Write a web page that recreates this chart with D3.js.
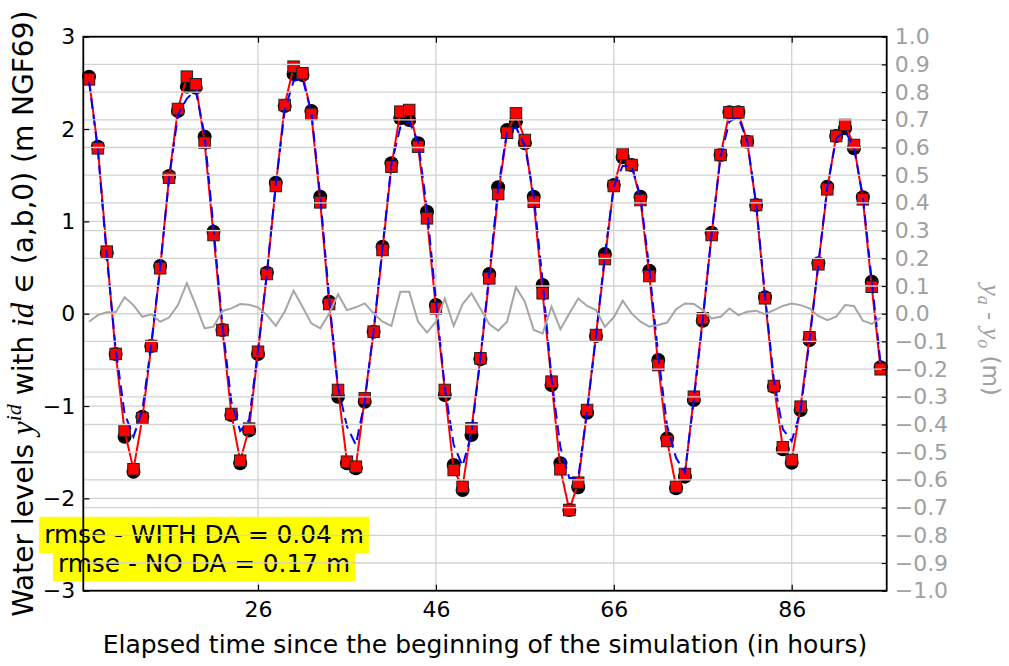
<!DOCTYPE html>
<html><head><meta charset="utf-8">
<script src="https://cdn.jsdelivr.net/npm/d3@7"></script>
<style>body{margin:0;background:#fff;} svg{display:block;font-family:"DejaVu Sans";}</style>
</head><body><svg id="c" width="1009" height="666"></svg>
<script>
const hours = [7,8,9,10,11,12,13,14,15,16,17,18,19,20,21,22,23,24,25,26,27,28,29,30,31,32,33,34,35,36,37,38,39,40,41,42,43,44,45,46,47,48,49,50,51,52,53,54,55,56,57,58,59,60,61,62,63,64,65,66,67,68,69,70,71,72,73,74,75,76,77,78,79,80,81,82,83,84,85,86,87,88,89,90,91,92,93,94,95,96];
const obs = [2.567,1.809,0.661,-0.436,-1.332,-1.711,-1.116,-0.350,0.517,1.491,2.195,2.459,2.448,1.917,0.888,-0.177,-1.097,-1.620,-1.264,-0.436,0.444,1.419,2.250,2.596,2.585,2.195,1.267,0.130,-0.899,-1.620,-1.675,-0.953,-0.195,0.726,1.629,2.116,2.098,1.846,1.105,0.094,-0.881,-1.639,-1.909,-1.314,-0.494,0.430,1.369,1.990,2.080,1.846,1.267,0.311,-0.772,-1.620,-2.126,-1.880,-1.072,-0.242,0.647,1.394,1.694,1.610,1.267,0.466,-0.501,-1.350,-1.891,-1.765,-0.935,-0.076,0.877,1.719,2.181,2.181,1.863,1.177,0.178,-0.791,-1.469,-1.614,-1.043,-0.285,0.546,1.376,1.925,2.008,1.791,1.261,0.347,-0.580];
const withDA = [2.538,1.791,0.672,-0.436,-1.270,-1.685,-1.133,-0.350,0.492,1.473,2.217,2.567,2.485,1.852,0.852,-0.177,-1.086,-1.592,-1.245,-0.412,0.430,1.383,2.260,2.675,2.604,2.163,1.206,0.105,-0.826,-1.603,-1.657,-0.917,-0.195,0.690,1.592,2.188,2.206,1.809,1.033,0.058,-0.826,-1.693,-1.874,-1.241,-0.483,0.383,1.296,1.960,2.170,1.881,1.213,0.221,-0.736,-1.685,-2.126,-1.830,-1.043,-0.231,0.592,1.383,1.730,1.610,1.231,0.408,-0.556,-1.379,-1.874,-1.736,-0.899,-0.050,0.852,1.719,2.181,2.181,1.863,1.177,0.167,-0.783,-1.447,-1.585,-1.007,-0.256,0.535,1.347,1.925,2.044,1.827,1.239,0.292,-0.602];
const noDA = [2.52,1.77,0.62,-0.38,-1.08,-1.33,-1.05,-0.33,0.50,1.46,2.15,2.33,2.42,1.93,0.93,-0.12,-0.95,-1.27,-1.15,-0.40,0.44,1.40,2.20,2.52,2.55,2.18,1.27,0.17,-0.80,-1.22,-1.42,-0.95,-0.18,0.72,1.62,2.02,2.08,1.86,1.13,0.14,-0.80,-1.42,-1.65,-1.30,-0.48,0.43,1.36,1.97,2.02,1.82,1.28,0.35,-0.70,-1.45,-1.78,-1.78,-1.05,-0.24,0.64,1.38,1.60,1.60,1.27,0.48,-0.45,-1.22,-1.56,-1.72,-0.93,-0.07,0.87,1.70,2.08,2.13,1.87,1.19,0.20,-0.72,-1.25,-1.38,-1.05,-0.29,0.54,1.37,1.90,1.98,1.80,1.27,0.36,-0.55];
const diffAO = [-0.029,-0.005,0.005,0.005,0.059,0.031,-0.011,-0.002,-0.029,-0.014,0.031,0.110,0.031,-0.053,-0.047,0.010,0.019,0.035,0.032,0.023,-0.005,-0.044,0.007,0.083,0.025,-0.035,-0.053,0.001,0.070,0.013,0.023,0.037,0.001,-0.029,-0.044,0.079,0.079,-0.029,-0.068,-0.029,0.055,-0.044,0.035,0.074,0.019,-0.037,-0.061,-0.029,0.095,0.043,-0.059,-0.071,0.025,-0.056,0.001,0.055,0.028,0.013,-0.047,-0.013,0.047,0.001,-0.029,-0.047,-0.041,-0.032,0.016,0.037,0.035,0.013,-0.017,-0.011,0.019,-0.005,0.007,0.011,-0.002,0.013,0.028,0.037,0.031,0.019,-0.008,-0.023,-0.011,0.031,0.028,-0.025,-0.037,-0.014];
const xTicks = [26,46,66,86];
const yTicks = [-3,-2,-1,0,1,2,3];
const y2Ticks = [-1.0,-0.9,-0.8,-0.7,-0.6,-0.5,-0.4,-0.3,-0.2,-0.1,0.0,0.1,0.2,0.3,0.4,0.5,0.6,0.7,0.8,0.9,1.0];
const rmseLabels = ["rmse - WITH DA = 0.04 m","rmse - NO DA = 0.17 m"];
const xLabel = "Elapsed time since the beginning of the simulation (in hours)";

const L=83.3,R=886.7,T=36.7,B=590.7;
const svg = d3.select("#c");
const x = d3.scaleLinear().domain([6.36,96.68]).range([L,R]);
const y = d3.scaleLinear().domain([-3,3]).range([B,T]);
const y2 = d3.scaleLinear().domain([-1,1]).range([B,T]);
const gridC = "#d2d2d2";
const pts = hours.map((h,i)=>({h, o:obs[i], a:withDA[i], n:noDA[i], d:diffAO[i]}));

// ax1 grid
const g1 = svg.append("g");
g1.selectAll(".vx").data(xTicks).join("line").attr("x1",d=>x(d)).attr("x2",d=>x(d)).attr("y1",T).attr("y2",B).attr("stroke",gridC).attr("stroke-width",1.3);
g1.selectAll(".hy").data(yTicks).join("line").attr("x1",L).attr("x2",R).attr("y1",d=>y(d)).attr("y2",d=>y(d)).attr("stroke",gridC).attr("stroke-width",1.3);

// rmse box
const boxR = svg.append("g"), boxT = svg.append("g");
rmseLabels.forEach((t,i)=>{
  const base = 543.3 + i*28.4;
  const tx = boxT.append("text").attr("x",204).attr("y",base).attr("text-anchor","middle").style("font-size","24.8px").attr("fill","#000").text(t);
  const w = tx.node().getComputedTextLength();
  boxR.append("rect").attr("x",204-w/2-5).attr("y",base-26.5).attr("width",w+10).attr("height",36.2).attr("fill","#ffff00");
});

// data ax1
const dg = svg.append("g");
dg.selectAll("circle").data(pts).join("circle").attr("cx",d=>x(d.h)).attr("cy",d=>y(d.o)).attr("r",7).attr("fill","#000");
dg.append("path").datum(pts).attr("d",d3.line().x(d=>x(d.h)).y(d=>y(d.a))).attr("fill","none").attr("stroke","#ff0000").attr("stroke-width",2);
const s=11.5;
dg.selectAll("rect").data(pts).join("rect").attr("x",d=>x(d.h)-s/2).attr("y",d=>y(d.a)-s/2).attr("width",s).attr("height",s).attr("fill","#ff0000").attr("stroke","#222").attr("stroke-width",1);
dg.append("path").datum(pts).attr("d",d3.line().x(d=>x(d.h)).y(d=>y(d.n))).attr("fill","none").attr("stroke","#0000ff").attr("stroke-width",2).attr("stroke-dasharray","11,6");

// ax2 grid + line
const g2 = svg.append("g");
g2.selectAll("line.h").data(y2Ticks).join("line").attr("x1",L).attr("x2",R).attr("y1",d=>y2(d)).attr("y2",d=>y2(d)).attr("stroke",gridC).attr("stroke-width",1.3);
g2.append("path").datum(pts).attr("d",d3.line().x(d=>x(d.h)).y(d=>y2(d.d))).attr("fill","none").attr("stroke","#a6a6a6").attr("stroke-width",2);

// axes
const fs = "22px";
const axL = svg.append("g").attr("transform",`translate(${L},0)`).call(d3.axisLeft(y).tickValues(yTicks).tickFormat(d3.format("d")).tickSize(-6).tickPadding(8));
const axB = svg.append("g").attr("transform",`translate(0,${B})`).call(d3.axisBottom(x).tickValues(xTicks).tickFormat(d3.format("d")).tickSize(-6).tickPadding(11));
const axT = svg.append("g").attr("transform",`translate(0,${T})`).call(d3.axisTop(x).tickValues(xTicks).tickFormat("").tickSize(-6));
const axR = svg.append("g").attr("transform",`translate(${R},0)`).call(d3.axisRight(y2).tickValues(y2Ticks).tickFormat(d3.format(".1f")).tickSize(-5).tickPadding(8));
[axL,axB,axT,axR].forEach(a=>{a.select(".domain").remove(); a.selectAll("text").style("font-size",fs).style("font-family","DejaVu Sans"); a.selectAll("line").attr("stroke","#000").attr("stroke-width",1.2);});
axR.selectAll("text").attr("fill","#a0a0a0");

// frame
svg.append("rect").attr("x",L).attr("y",T).attr("width",R-L).attr("height",B-T).attr("fill","none").attr("stroke","#000").attr("stroke-width",1.8);

// labels
svg.append("text").attr("x",(L+R)/2).attr("y",653).attr("text-anchor","middle").style("font-size","25px").text(xLabel);
const yl = svg.append("text").attr("transform",`translate(33,${(T+B)/2}) rotate(-90)`).attr("text-anchor","middle").style("font-size","28px");
yl.append("tspan").text("Water levels ");
yl.append("tspan").style("font-family","Liberation Serif").style("font-style","italic").style("font-size","31px").text("y");
yl.append("tspan").attr("dy",-12).style("font-family","Liberation Serif").style("font-style","italic").style("font-size","22px").text("id");
yl.append("tspan").attr("dy",12).text(" with ");
yl.append("tspan").style("font-family","Liberation Serif").style("font-style","italic").style("font-size","31px").text("id");
yl.append("tspan").style("font-family","DejaVu Serif").text(" \u2208 ");
yl.append("tspan").text("(a,b,0) (m NGF69)");

const yr = svg.append("text").attr("transform",`translate(983,340) rotate(90)`).attr("text-anchor","middle").style("font-size","23px").attr("fill","#a0a0a0");
yr.append("tspan").style("font-family","Liberation Serif").style("font-style","italic").style("font-size","26px").text("y");
yr.append("tspan").attr("dy",5).style("font-family","Liberation Serif").style("font-style","italic").style("font-size","18px").text("a");
yr.append("tspan").attr("dy",-5).text(" - ");
yr.append("tspan").style("font-family","Liberation Serif").style("font-style","italic").style("font-size","26px").text("y");
yr.append("tspan").attr("dy",5).style("font-family","Liberation Serif").style("font-style","italic").style("font-size","18px").text("o");
yr.append("tspan").attr("dy",-5).text("  (m)");
</script></body></html>
